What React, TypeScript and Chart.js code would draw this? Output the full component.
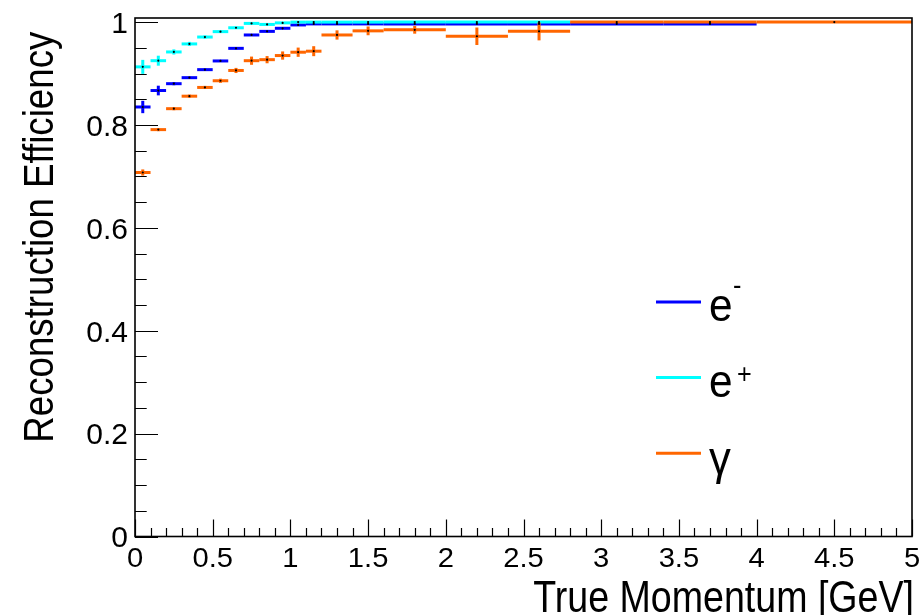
import React, { useEffect, useRef } from "react";
import { Chart, registerables } from "chart.js";
Chart.register(...registerables);

// Bin edges (GeV)
const binEdges = [0, 0.1, 0.2, 0.3, 0.4, 0.5, 0.6, 0.7, 0.8, 0.9, 1.0, 1.1, 1.2, 1.4, 1.6, 2.0, 2.4, 2.8, 3.4, 4.0, 5.0];

// e- efficiency (bins up to 4.0 GeV)
const electronEff = [0.835, 0.867, 0.8803, 0.892, 0.9076, 0.9245, 0.949, 0.975, 0.982, 0.988, 0.9945, 0.9965, 0.9965, 0.9965, 0.9965, 0.9965, 0.9965, 0.9965, 0.9965];
const electronErr = [0.012, 0.0094, 0.003, 0.002, 0.002, 0.002, 0.002, 0.0015, 0.0015, 0.0015, 0.001, 0.001, 0.001, 0.001, 0.001, 0.001, 0.001, 0.001, 0.001];

// e+ efficiency (bins up to 2.8 GeV)
const positronEff = [0.913, 0.925, 0.942, 0.9576, 0.971, 0.9815, 0.989, 0.9975, 0.9955, 0.9985, 1.0, 1.0, 1.0, 1.0, 1.0, 1.0, 1.0];
const positronErr = [0.0136, 0.0097, 0.005, 0.004, 0.003, 0.002, 0.002, 0.001, 0.001, 0.001, 0, 0, 0, 0, 0, 0, 0];

// gamma efficiency (bins up to 5.0 GeV)
const gammaEff = [0.7076, 0.791, 0.8317, 0.856, 0.873, 0.886, 0.906, 0.925, 0.927, 0.935, 0.9415, 0.9435, 0.975, 0.983, 0.985, 0.9725, 0.982, 1.0, 1.0, 1.0];
const gammaErr = [0.006, 0.003, 0.003, 0.003, 0.003, 0.004, 0.005, 0.008, 0.007, 0.008, 0.009, 0.0097, 0.009, 0.0085, 0.0075, 0.017, 0.0175, 0, 0, 0];

const seriesLabels = ["e-", "e+", "γ"];
const seriesColors = ["#0000ff", "#00ffff", "#ff6600"];

const xMajorTicks = [0, 0.5, 1, 1.5, 2, 2.5, 3, 3.5, 4, 4.5, 5];
const xTickLabels = ["0", "0.5", "1", "1.5", "2", "2.5", "3", "3.5", "4", "4.5", "5"];
const yMajorTicks = [0, 0.2, 0.4, 0.6, 0.8, 1];
const yTickLabels = ["0", "0.2", "0.4", "0.6", "0.8", "1"];

const xTitle = "True Momentum [GeV]";
const yTitle = "Reconstruction Efficiency";

const X_MIN = 0, X_MAX = 5, Y_MIN = 0, Y_MAX = 1.008;
const X_MINOR = 0.1, Y_MINOR = 0.05;
const FONT = '"Liberation Sans", Arial, Helvetica, sans-serif';

const effs = [electronEff, positronEff, gammaEff];
const errs = [electronErr, positronErr, gammaErr];

function drawText(ctx: CanvasRenderingContext2D, text: string, x: number, y: number, size: number, sx: number, align: CanvasTextAlign, rot = 0) {
  ctx.save();
  ctx.translate(x, y);
  if (rot) ctx.rotate(rot);
  ctx.scale(sx, 1);
  ctx.font = `${size}px ${FONT}`;
  ctx.textAlign = align;
  ctx.textBaseline = "alphabetic";
  ctx.fillStyle = "#000";
  ctx.fillText(text, 0, 0);
  ctx.restore();
}

const histPlugin = {
  id: "histBars",
  beforeDatasetsDraw(chart: any) {
    const ctx: CanvasRenderingContext2D = chart.ctx;
    const xs = chart.scales.x, ys = chart.scales.y;
    ctx.save();
    ctx.lineWidth = 3;
    ctx.lineCap = "butt";
    effs.forEach((vals, si) => {
      ctx.strokeStyle = seriesColors[si];
      vals.forEach((v, i) => {
        const lo = binEdges[i], hi = binEdges[i + 1];
        const c = (lo + hi) / 2;
        const py = ys.getPixelForValue(v);
        ctx.beginPath();
        ctx.moveTo(xs.getPixelForValue(lo), py);
        ctx.lineTo(xs.getPixelForValue(hi), py);
        ctx.stroke();
        const e = errs[si][i];
        if (e > 0) {
          const px = xs.getPixelForValue(c);
          ctx.beginPath();
          ctx.moveTo(px, ys.getPixelForValue(Math.min(v + e, 1)));
          ctx.lineTo(px, ys.getPixelForValue(v - e));
          ctx.stroke();
        }
      });
    });
    ctx.restore();
  },
  afterDatasetsDraw(chart: any) {
    const ctx: CanvasRenderingContext2D = chart.ctx;
    const xs = chart.scales.x, ys = chart.scales.y;
    const { left, right, top, bottom } = chart.chartArea;
    ctx.save();
    // ticks
    ctx.strokeStyle = "#000";
    ctx.lineWidth = 1.2;
    ctx.beginPath();
    for (let k = 0; X_MIN + k * X_MINOR <= X_MAX + 1e-9; k++) {
      const v = X_MIN + k * X_MINOR;
      const major = xMajorTicks.some((t) => Math.abs(t - v) < 1e-6);
      const px = Math.round(xs.getPixelForValue(v)) + 0.5;
      ctx.moveTo(px, bottom);
      ctx.lineTo(px, bottom - (major ? 17 : 8.5));
    }
    for (let k = 0; Y_MIN + k * Y_MINOR <= 1 + 1e-9; k++) {
      const v = Y_MIN + k * Y_MINOR;
      const major = yMajorTicks.some((t) => Math.abs(t - v) < 1e-6);
      const py = Math.round(ys.getPixelForValue(v)) + 0.5;
      ctx.moveTo(left, py);
      ctx.lineTo(left + (major ? 23 : 11.7), py);
    }
    ctx.stroke();
    // frame
    ctx.lineWidth = 1.6;
    ctx.strokeRect(left, top, right - left, bottom - top);
    ctx.restore();

    // tick labels
    xMajorTicks.forEach((v, i) => {
      drawText(ctx, xTickLabels[i], xs.getPixelForValue(v), bottom + 30, 27, 1.08, "center");
    });
    yMajorTicks.forEach((v, i) => {
      drawText(ctx, yTickLabels[i], left - 7, ys.getPixelForValue(v) + 10.8, 30, 1.0, "right");
    });
    // axis titles
    drawText(ctx, xTitle, right + 2, 611.5, 45, 0.835, "right");
    drawText(ctx, yTitle, 53, 31.7, 42, 0.873, "right", -Math.PI / 2);

    // legend
    const legendY = [302, 377.5, 453.3];
    ctx.save();
    ctx.lineWidth = 3;
    legendY.forEach((ly, i) => {
      ctx.strokeStyle = seriesColors[i];
      ctx.beginPath();
      ctx.moveTo(656, ly);
      ctx.lineTo(701, ly);
      ctx.stroke();
    });
    ctx.restore();
    // e-
    drawText(ctx, "e", 709, 321, 46, 0.92, "left");
    drawText(ctx, "-", 733, 293.5, 28, 0.9, "left");
    // e+
    drawText(ctx, "e", 709, 397, 46, 0.92, "left");
    drawText(ctx, "+", 737, 382.5, 28, 0.9, "left");
    // gamma
    drawText(ctx, "γ", 709, 473.5, 46, 0.95, "left");
  },
};

export default function App() {
  const ref = useRef<HTMLCanvasElement>(null);
  useEffect(() => {
    const canvas = ref.current!;
    const datasets = effs.map((vals, si) => ({
      label: seriesLabels[si],
      data: vals.map((v, i) => ({ x: (binEdges[i] + binEdges[i + 1]) / 2, y: v })),
      showLine: false,
      pointRadius: 1.1,
      pointBorderWidth: 0,
      pointBackgroundColor: "#000",
      borderColor: seriesColors[si],
      backgroundColor: "#000",
    }));
    const chart = new Chart(canvas, {
      type: "scatter",
      data: { datasets },
      options: {
        responsive: false,
        maintainAspectRatio: false,
        animation: false,
        layout: { padding: { left: 135, right: 12, top: 18, bottom: 78.5 } },
        scales: {
          x: { type: "linear", min: X_MIN, max: X_MAX, display: false },
          y: { type: "linear", min: Y_MIN, max: Y_MAX, display: false },
        },
        plugins: { legend: { display: false }, tooltip: { enabled: false } },
      },
      plugins: [histPlugin],
    });
    return () => chart.destroy();
  }, []);
  return (
    <div style={{ position: "fixed", left: 0, top: 0, width: 924, height: 615, background: "#fff" }}>
      <canvas ref={ref} width={924} height={615} style={{ display: "block", width: 924, height: 615 }} />
    </div>
  );
}
